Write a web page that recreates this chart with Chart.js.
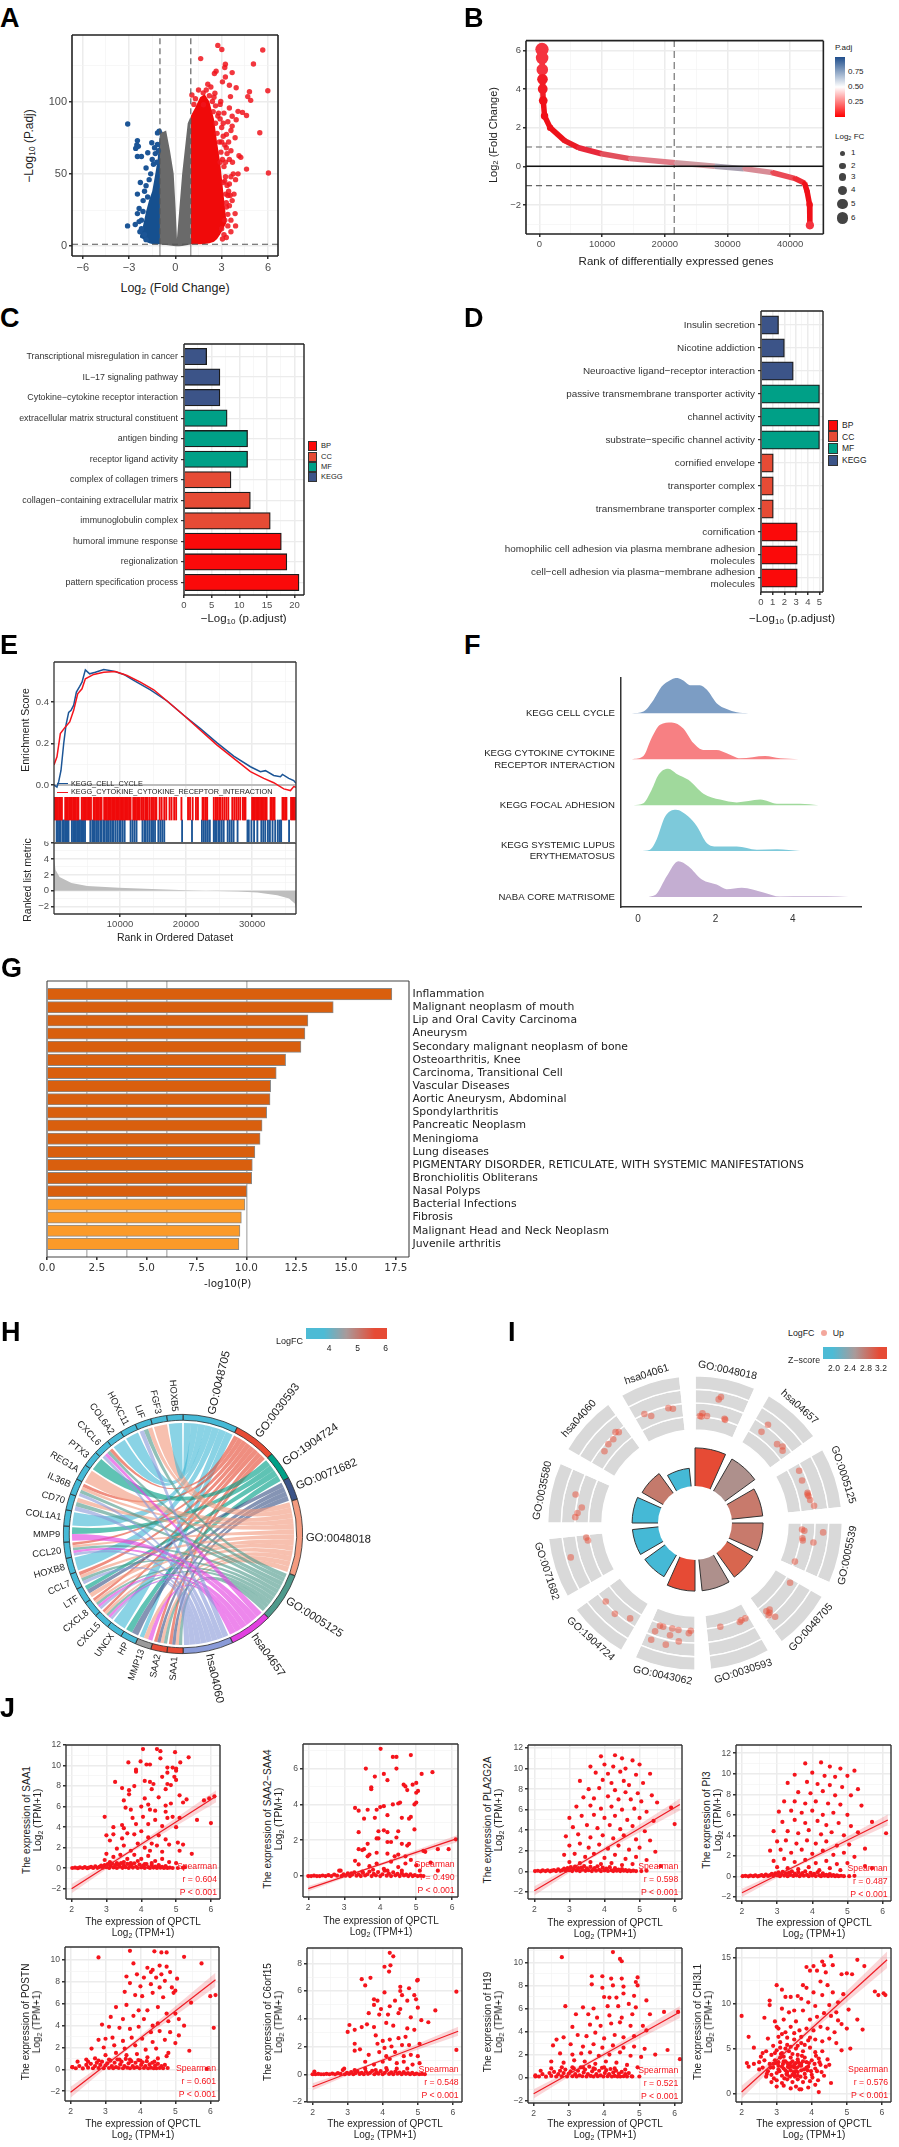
<!DOCTYPE html>
<html>
<head>
<meta charset="utf-8">
<style>
  html, body { margin: 0; padding: 0; background: #fff; }
  body { position: relative; width: 899px; height: 2147px; overflow: hidden; font-family: "Liberation Sans", Arial, sans-serif; color: #222; }
  canvas { position: absolute; }
  .t { position: absolute; white-space: nowrap; line-height: 1; }
  sub { font-size: 70%; vertical-align: -0.25em; line-height: 0; }
</style>
<script src="https://cdn.jsdelivr.net/npm/chart.js@4"></script>
</head>
<body>
<script>
// A - volcano
const volcanoAreaX = [-1, -0.8, -0.6, -0.35, -0.11, 0.02, 0.1, 0.25, 0.44, 0.8, 1]
const volcanoGreyTop = [80, 79, 80, 66, 50, 25, 5, 25, 50, 85, 90]
const volcanoGreyLow = [1.2, 1, 0.8, 0.4, 0.2, 0, 0, 0, 0.2, 0.8, 1.2]
const volcanoRedX = [1, 1.3, 1.6, 1.9, 2.2, 2.5, 2.7, 2.9, 3.1, 3.3]
const volcanoRedTop = [90, 96, 103, 105, 100, 88, 72, 58, 38, 18]
const volcanoRedLow = [1.3, 1.3, 1.3, 1.5, 2, 3, 5, 8, 12, 16]
const volcanoBlueX = [-2.3, -2.1, -1.9, -1.7, -1.5, -1.3, -1.15, -1]
const volcanoBlueTop = [7, 14, 24, 32, 38, 50, 60, 78]
const volcanoBlueLow = [6, 5, 3, 2, 1.5, 1.3, 1.3, 1.3]
const volcanoRedDots = [[2.75,138.8],[3.01,136],[1.64,129.7],[5.66,135.6],[5.06,126],[3.24,125.8],[3.2,123.5],[2.64,121],[2.53,119.4],[3.68,120],[3.24,117],[3.05,113.6],[3.5,111.3],[3.94,109.5],[4.8,106.8],[4.69,103.4],[5.99,107.5],[4.88,100.8],[1.07,104.5],[2.56,105.7],[3.57,103.4],[1.82,97.8],[2.94,100],[3.5,95.5],[4.06,93.2],[4.35,92.5],[4.61,90.3],[3.68,89.8],[5.47,78.4],[6.03,50.6],[4.61,53.3],[4.12,62.5],[4.24,61.4],[3.68,83],[3.87,75],[3.31,77.3],[3.94,87.4],[4.06,50],[3.5,43],[3.68,31.5],[3.87,22.5],[3.31,27],[3.5,60],[3.3,68],[3.1,85],[2.8,92],[3.2,45],[3.45,38],[3.6,18],[3.9,14],[2.9,98],[2.6,85],[2.7,78],[2.85,72],[2.95,65],[3.05,60],[3.15,55],[3.25,48],[3.35,42],[3.4,35],[3.5,28],[3.3,30],[3.4,22],[3.2,18],[3,12],[2.9,88],[3,82],[3.1,76],[3.2,70],[3.35,64],[3.45,72],[3.6,66],[3.7,58],[3.75,50],[3.9,46],[3.6,48],[3.8,36],[3.55,35],[2.45,93],[2.6,97],[2.4,100],[2.2,104],[2,108],[1.8,106],[2.3,110],[1.5,108],[1.3,102],[1.2,98],[2.75,90],[3.15,92],[3.4,86],[3.6,80],[2.1,112],[2.5,103],[3,72],[3.25,58],[2.9,58],[3.1,44],[3.25,36],[3.4,14],[3.6,10],[3.15,8],[3.3,6],[3.05,5]]
const volcanoBlueDots = [[-3.09,84.5],[-2.46,73],[-2.5,70],[-2.4,69],[-2.57,67.6],[-2.46,62],[-2.2,62],[-1.79,64.6],[-1.53,71.5],[-1.16,70.3],[-1.16,78.3],[-1.05,79.5],[-1.42,56.6],[-2.27,44],[-1.9,54],[-2.46,36],[-1.9,41.8],[-2.35,26],[-2.46,22.5],[-2.09,31.5],[-3.1,14],[-2.35,17],[-1.9,4.5],[-2.6,15],[-2.2,12],[-1.2,58],[-1.3,64],[-1.6,50],[-1.7,46],[-2,38],[-1.8,34],[-2.1,24],[-2.2,18],[-1.5,60],[-2.3,10],[-2,8],[-1.35,68],[-1.1,66]]

// B - rank plot
const rankX = [400, 420, 450, 480, 520, 600, 810, 1700, 4000, 6250, 9900, 14400, 21680, 28000, 32600, 37100, 40700, 42300, 42700, 43100, 43150]
const rankFC = [6.05, 5.6, 5, 4.5, 4, 3.4, 2.6, 2, 1.33, 0.96, 0.65, 0.4, 0.18, 0, -0.12, -0.32, -0.62, -0.87, -1.29, -1.97, -3.05]
const rankColors = ['#f5333f','#f5333f','#f5333f','#f21c26','#f21c26','#f01018','#f01018','#ee1018','#ea1a24','#e8283a','#e2505c','#e07a86','#cf9aa0','#a8a0b0','#d88c96','#ea4a55','#ee2a34','#f01018','#f01018','#f01018','#f5333f']

// C / D - enrichment bars
const barKinds = { BP: '#fb0a0a', CC: '#e64b35', MF: '#00a087', KEGG: '#3c5488' }
const cTerms = ['Transcriptional misregulation in cancer', 'IL\u221217 signaling pathway', 'Cytokine\u2212cytokine receptor interaction', 'extracellular matrix structural constituent', 'antigen binding', 'receptor ligand activity', 'complex of collagen trimers', 'collagen\u2212containing extracellular matrix', 'immunoglobulin complex', 'humoral immune response', 'regionalization', 'pattern specification process']
const cValues = [4.1, 6.5, 6.5, 7.8, 11.5, 11.5, 8.5, 12, 15.6, 17.6, 18.6, 20.8]
const cGroups = ['KEGG', 'KEGG', 'KEGG', 'MF', 'MF', 'MF', 'CC', 'CC', 'CC', 'BP', 'BP', 'BP']
const dTerms = ['Insulin secretion', 'Nicotine addiction', 'Neuroactive ligand\u2212receptor interaction', 'passive transmembrane transporter activity', 'channel activity', 'substrate\u2212specific channel activity', 'cornified envelope', 'transporter complex', 'transmembrane transporter complex', 'cornification', ['homophilic cell adhesion via plasma membrane adhesion', 'molecules'], ['cell\u2212cell adhesion via plasma\u2212membrane adhesion', 'molecules']]
const dValues = [1.5, 2, 2.76, 5, 5, 5, 1.05, 1.05, 1.05, 3.1, 3.1, 3.1]
const dGroups = ['KEGG', 'KEGG', 'KEGG', 'MF', 'MF', 'MF', 'CC', 'CC', 'CC', 'BP', 'BP', 'BP']

// E - GSEA
const esBlue = [[0,0],[450,-0.01],[710,0.016],[1060,0.07],[1470,0.2],[1820,0.29],[2220,0.35],[2580,0.36],[2980,0.385],[3390,0.448],[3890,0.475],[4240,0.496],[4750,0.555],[5400,0.536],[6260,0.544],[7530,0.557],[9040,0.549],[10560,0.533],[12070,0.504],[14600,0.459],[17120,0.405],[19650,0.336],[22170,0.272],[24700,0.203],[27220,0.139],[29750,0.088],[31260,0.064],[32020,0.069],[33280,0.046],[34290,0.04],[34600,0.051],[35560,0.032],[36310,0.021],[36650,0.008]]
const esRed = [[0,0.096],[450,0.136],[960,0.248],[1720,0.28],[2380,0.304],[2980,0.36],[3590,0.44],[4240,0.464],[4750,0.512],[6010,0.533],[7530,0.544],[9300,0.547],[11060,0.528],[13080,0.496],[15100,0.459],[17120,0.405],[19650,0.336],[22170,0.264],[24700,0.192],[27220,0.128],[29750,0.064],[31770,0.032],[33280,0.011],[34800,-0.019],[35810,-0.027],[36310,-0.008],[36650,-0.011]]
const rugRed = [0,200,400,600,800,1000,1200,1700,1900,2100,2300,2500,2700,2900,3100,3300,3500,3700,4200,4400,4600,4800,5000,5200,5400,5600,6000,6200,6400,6600,6800,7000,7200,7600,7800,8000,8200,8400,8600,8800,9000,9200,9400,9600,9800,10000,10200,10400,10600,10800,11000,11200,11400,11600,12000,12200,12400,12600,12800,13000,13300,13500,13800,14000,14200,14500,14800,15000,15300,15500,16000,16300,16700,17000,17500,17800,18200,18500,19300,20300,20600,21000,21500,21800,22500,22700,23000,23200,24200,24500,24700,25000,25200,25500,25800,26100,26400,27000,27300,27600,27900,28200,28600,28800,29000,30000,30200,30400,30600,30800,31000,31200,31400,31600,31800,32000,32200,32800,33000,33200,33400,34600,34800,35000,35200,35900,36100,36300,36500]
const rugBlue = [400,600,800,1000,1300,1500,1700,1900,2000,2200,2700,2900,3100,3300,3500,3700,3900,4100,4300,4500,4700,5500,5800,6000,6200,6500,6700,7000,7200,7500,7700,8000,8200,8500,8800,9000,9300,9600,9900,10100,10400,10700,11600,11900,12200,12500,13400,13700,13900,14200,14500,14800,15000,15300,15800,16100,16400,16700,19400,20900,22400,22700,23000,23300,23600,24200,24400,24600,24900,25100,25400,25700,26300,26600,26900,27200,27800,29300,29500,29900,30300,30800,31400,31700,32000,32400,32700,33100,33500,33900,34200,34400,35600]
const metricX = [0, 240, 840, 2640, 5030, 9820, 15810, 20000, 23000, 27800, 30800, 33800, 35600, 36500, 36650]
const metricY = [4.2, 2.6, 1.75, 1, 0.62, 0.38, 0.2, 0.08, 0, -0.08, -0.2, -0.55, -0.95, -1.6, -2.2]

// F - ridges
const ridgeNames = ['KEGG CELL CYCLE', ['KEGG CYTOKINE CYTOKINE', 'RECEPTOR INTERACTION'], 'KEGG FOCAL ADHESION', ['KEGG SYSTEMIC LUPUS', 'ERYTHEMATOSUS'], 'NABA CORE MATRISOME']
const ridgeColors = ['#7c9dc4', '#f78083', '#a0d99c', '#7dc9da', '#c4aed2']
const ridgeX1 = [-0.16, 0.14, 0.4, 0.61, 0.83, 1, 1.17, 1.34, 1.6, 1.78, 2.03, 2.29, 2.55, 2.85]
const ridgeH1 = [0, 0.04, 0.29, 0.58, 0.72, 0.77, 0.71, 0.61, 0.61, 0.51, 0.22, 0.09, 0.02, 0]
const ridgeX2 = [-0.16, 0.14, 0.35, 0.57, 0.87, 1.17, 1.43, 1.69, 2.03, 2.29, 2.64, 3.28, 3.67, 4.15]
const ridgeH2 = [0, 0.07, 0.46, 0.75, 0.8, 0.67, 0.35, 0.2, 0.2, 0.13, 0.02, 0.07, 0.02, 0]
const ridgeX3 = [-0.12, 0.14, 0.35, 0.53, 0.78, 1, 1.3, 1.69, 2.12, 2.55, 3.16, 3.59, 4.19, 4.66]
const ridgeH3 = [0, 0.04, 0.33, 0.66, 0.79, 0.68, 0.55, 0.25, 0.12, 0.06, 0.12, 0.03, 0.03, 0]
const ridgeX4 = [0.05, 0.31, 0.48, 0.7, 0.98, 1.3, 1.52, 1.78, 2.03, 2.55, 3.07, 3.59, 4.19]
const ridgeH4 = [0, 0.03, 0.25, 0.75, 0.9, 0.75, 0.54, 0.17, 0.1, 0.1, 0.03, 0.04, 0]
const ridgeX5 = [0.27, 0.48, 0.74, 1.04, 1.3, 1.65, 2.03, 2.29, 2.68, 3.24, 3.67, 4.36, 4.88, 5.44]
const ridgeH5 = [0, 0.07, 0.45, 0.78, 0.67, 0.38, 0.27, 0.17, 0.2, 0.1, 0.01, 0.015, 0.015, 0]

// G - disease enrichment
const diseaseNames = ['Inflammation', 'Malignant neoplasm of mouth', 'Lip and Oral Cavity Carcinoma', 'Aneurysm', 'Secondary malignant neoplasm of bone', 'Osteoarthritis, Knee', 'Carcinoma, Transitional Cell', 'Vascular Diseases', 'Aortic Aneurysm, Abdominal', 'Spondylarthritis', 'Pancreatic Neoplasm', 'Meningioma', 'Lung diseases', 'PIGMENTARY DISORDER, RETICULATE, WITH SYSTEMIC MANIFESTATIONS', 'Bronchiolitis Obliterans', 'Nasal Polyps', 'Bacterial Infections', 'Fibrosis', 'Malignant Head and Neck Neoplasm', 'Juvenile arthritis']
const diseaseValues = [17.3, 14.36, 13.09, 12.94, 12.74, 11.97, 11.5, 11.22, 11.19, 11.02, 10.79, 10.69, 10.43, 10.3, 10.27, 10.02, 9.93, 9.75, 9.68, 9.63]

// H - chord
const chordTerms = ['GO:0048705', 'GO:0030593', 'GO:1904724', 'GO:0071682', 'GO:0048018', 'GO:0005125', 'hsa04657', 'hsa04060']
const chordTermSpan = [27, 21, 14, 11, 37.5, 24, 21, 24.5]
const chordTermColors = ['#45b9d6', '#e64b35', '#00a087', '#3c5488', '#f39b7f', '#4f9a8c', '#e23fe0', '#8a9bd8']
const chordGenes = ['SAA1', 'SAA2', 'MMP13', 'HP', 'UNCX', 'CXCL5', 'CXCL8', 'LTF', 'CCL7', 'HOXB8', 'CCL20', 'MMP9', 'COL1A1', 'CD70', 'IL36B', 'REG1A', 'PTX3', 'CXCL6', 'COL6A2', 'HOXC11', 'LIF', 'FGF3', 'HOXB5']
const chordGeneSpan = [7.83, 7.83, 7.83, 7.83, 7.83, 7.83, 7.83, 7.83, 7.83, 7.83, 7.83, 7.83, 7.83, 7.83, 7.83, 7.83, 7.83, 7.83, 7.83, 7.83, 7.83, 7.83, 7.83]
const chordGeneColors = ['#e64b35', '#e64b35', '#9a9a9a', '#45b9d6', '#45b9d6', '#45b9d6', '#45b9d6', '#45b9d6', '#45b9d6', '#45b9d6', '#45b9d6', '#45b9d6', '#45b9d6', '#45b9d6', '#45b9d6', '#45b9d6', '#45b9d6', '#45b9d6', '#45b9d6', '#45b9d6', '#45b9d6', '#45b9d6', '#45b9d6']
const chordLinks = [[0,1],[0,3],[0,4],[0,5],[1,1],[1,3],[1,4],[1,5],[2,0],[2,4],[2,6],[3,2],[3,3],[4,0],[5,1],[5,4],[5,5],[5,6],[5,7],[6,1],[6,4],[6,5],[6,6],[6,7],[7,2],[7,3],[7,4],[8,1],[8,4],[8,5],[8,7],[9,0],[10,1],[10,4],[10,5],[10,6],[10,7],[11,2],[11,6],[12,0],[13,4],[13,5],[13,7],[14,1],[14,4],[14,5],[14,7],[15,4],[16,2],[17,1],[17,5],[17,6],[17,7],[18,0],[19,0],[20,4],[20,5],[20,7],[21,4],[22,0]]

// I - GO circle
const circleTerms = ['GO:0048018', 'hsa04657', 'GO:0005125', 'GO:0005539', 'GO:0048705', 'GO:0030593', 'GO:0043062', 'GO:1904724', 'GO:0071682', 'GO:0035580', 'hsa04060', 'hsa04061']
const circleBars = [12.5, 12.1, 10.2, 10.2, 9.8, 10.2, 10.2, 8.2, 8.5, 8.5, 7.9, 5.9]
const circleBarColors = ['#e64b35', '#ae908c', '#c87a6c', '#c87a6c', '#d8664f', '#ae908c', '#e64b35', '#45b9d6', '#45b9d6', '#45b9d6', '#c47a6c', '#45b9d6']
const circleDots = [[80,388],[73,381],[15,330],[23,338],[37,330],[20,328],[91,321],[93,318],[225,303],[205,281],[253,243],[270,236],[270,223],[321,161],[330,131],[347,93],[350,83],[355,71],[367,53],[347,88],[330,-20],[337,-24],[395,-29],[331,-47],[332,-54],[365,-60],[308,-119],[293,-184],[230,-267],[220,-272],[227,-284],[247,-289],[230,-277],[155,-294],[143,-300],[138,-305],[78,-320],[-108,-317],[-98,-320],[-70,-325],[-51,-330],[-13,-332],[-19,-340],[-123,-334],[-77,-346],[-135,-360],[-90,-375],[-50,-365],[-275,-242],[-247,-280],[-200,-294],[-335,-45],[-330,-54],[-383,-106],[-368,88],[-349,48],[-362,31],[-369,18],[-235,280],[-245,280],[-252,258],[-267,243],[-279,221],[-82,354],[-68,352],[-156,336],[-135,330]]

// J - correlation panels
const saa1Pts = [4.05,11.6,4.45,11.6,4.55,11.4,4.97,11.3,5.36,10.8,3.63,10.3,3.98,10.4,4.55,10.7,5.12,10.3,4.15,10.1,4.25,10.1,3.85,9.6,3.85,9.4,4.75,9.8,4.9,9.8,5,9.5,5,9.7,4.75,9.3,4.95,8.9,4.6,8.9,5,8.6,3.25,8.4,4.1,8.5,4.25,8.4,4.35,8.2,4.75,8.2,4.85,8.1,3.45,7.8,3.65,7.6,3.8,8,4.3,7.7,4.7,7.7,5.1,7.1,5.3,6.7,5.2,6.4,3.5,6.6,3.65,7.2,4.1,6.8,4.2,6.2,4.5,6.9,4.7,6.1,4.85,6.3,3.55,5.9,3.7,5.7,4,6,4.25,5.7,4.4,5.6,4.7,5.5,4.9,5,5.1,4.9,5.6,4.7,6,4.4,2.95,5,3.2,4,3.45,4.2,3.5,3.9,3.75,4.9,3.85,4.3,4.05,5,4.2,4.3,4.4,4.7,4.6,4.1,4.75,4.9,5,4,3,3.2,3.2,3.3,3.45,2.9,3.6,3.4,3.8,3.3,4,3.6,4.2,3,4.3,2.4,4.5,3.2,4.7,2.8,4.8,2.3,5.05,2.5,5.2,2.3,3.1,2.7,3.3,1.9,3.5,2.2,3.7,1.7,3.9,2.4,4.1,2,4.25,1.7,4.45,2.2,4.6,1.6,5.1,1.7,5.45,1.4,3,1.4,3.2,1.1,3.4,1.3,3.6,0.9,3.8,1.3,4,0.9,4.2,1.2,4.4,0.7,4.6,0.9,4.8,0.6,5,0.5,2.95,0.8,3.1,0.6,3.3,0.5,3.5,0.6,3.7,0.5,3.9,0.7,4.1,0.4,4.3,0.5,4.5,0.3,4.7,0.2,5.95,6.8,5.8,6.6,6.1,7,5.25,0.1]
const saa2Pts = [4.01,7.1,4.35,6.65,4.45,6.65,4.85,6.75,5.15,5.7,5.45,5.8,3.6,6,4.45,6,3.85,5.55,4.1,5.7,4.2,5.35,3.75,4.95,3.75,4.85,4.65,5.1,4.7,5,4.9,5.1,5,5.2,4.75,4.8,5.05,4.75,5,4.65,3.3,3.8,3.4,3.65,3.65,3.7,3.55,3.2,3.9,3.7,4.1,3.9,4,3.85,4.2,3.4,4.35,4,4.5,4.05,4.55,4.1,4.6,3.25,4.8,3.2,4.85,3.3,5,4.1,4.95,4,3.4,2.45,3.85,3.25,3.95,2.5,4.1,2.55,4.2,2.45,4.5,2.5,4.95,2.6,3.9,2.1,3.95,2.1,4.2,1.9,4.3,1.9,4.45,2.15,3.65,1.8,4.6,1.8,4.8,1.8,4.75,1.7,3.4,1.5,3.5,1.45,3.55,1.5,3.65,1.1,3.7,1.2,3.9,1.3,4.2,1.25,4.4,1.1,4.5,1.2,4.7,1.1,5.2,1.4,5.25,1.35,5.6,1.5,5.9,1.5,6.1,2.05,3.3,0.85,3.4,0.65,3.7,0.55,3.9,0.7,4.1,0.4,4.3,0.8,4.5,0.5,4.7,0.7,4.85,0.9,5,0.6,5.1,0.3,5.4,0.75,5.6,0.3,2.9,0.3,3.2,0.15,3.5,0.25,3.8,0.35,4.2,0.3,4.6,0.3]
const pla2Pts = [3.9,11.2,4.3,11.3,4.5,11,4.8,10.8,3.6,10.2,4,10.4,4.25,10.2,4.6,10,5,10.4,3.75,9.6,4.1,9.5,4.45,9.7,4.9,9.4,5.3,9.5,3.3,8.8,3.95,8.9,4.2,8.6,4.55,8.8,4.7,8.4,5.1,8.6,3.55,8,3.85,8.1,4.3,7.9,4.6,7.7,4.95,7.6,5.35,7.4,3.4,7.2,3.7,7.1,4.1,7.3,4.4,7,4.75,7,5.05,6.8,5.5,6.7,3.2,6.3,3.6,6.4,3.9,6.1,4.2,6.3,4.5,6,4.85,6.1,5.2,5.8,5.9,6.2,3,5.2,3.35,5.4,3.7,5.5,4,5.2,4.3,5.4,4.65,5,5,5.2,5.4,4.9,6,4.6,3.1,4.3,3.5,4.5,3.8,4.2,4.15,4.5,4.45,4.1,4.8,4.4,5.15,3.9,2.9,3.4,3.25,3.6,3.6,3.3,3.95,3.5,4.25,3.2,4.55,3.5,4.9,3.1,5.3,3,3,2.5,3.3,2.7,3.55,2.3,3.85,2.6,4.1,2.2,4.4,2.5,4.7,2.1,5,2.3,5.45,1.9,2.85,1.6,3.15,1.7,3.45,1.4,3.7,1.7,4,1.3,4.3,1.6,4.6,1.2,4.9,1.4,5.2,1.1,3,0.9,3.3,0.8,3.6,0.9,3.9,0.7,4.2,0.8,4.5,0.6,4.8,0.7,5.6,0.5]
const pi3Pts = [3.8,11,4.25,11.1,4.5,10.7,4.8,10.5,5.2,10.3,3.5,9.9,4,10.1,4.35,9.8,4.65,9.7,5,9.8,3.3,9.1,3.85,9.2,4.15,9,4.5,8.9,4.85,8.7,5.3,8.5,3.6,8.2,3.95,8.1,4.3,8.3,4.65,7.9,5.1,7.9,3.2,7.3,3.5,7.3,3.8,7.1,4.1,7.3,4.45,7.1,4.8,7,5.4,6.9,3.05,6.3,3.4,6.4,3.7,6.2,4,6.4,4.3,6,4.6,6.2,5,6,5.7,5.3,3.15,5.3,3.5,5.5,3.8,5.2,4.15,5.4,4.4,5,4.75,5.2,5.1,4.9,6.1,4.2,2.9,4.4,3.3,4.4,3.6,4.2,3.9,4.5,4.25,4.1,4.55,4.3,4.9,4,5.3,4.3,3,3.4,3.25,3.5,3.55,3.2,3.85,3.5,4.1,3.2,4.4,3.4,4.7,3,5.05,3.1,5.5,2.7,2.8,2.5,3.1,2.6,3.4,2.3,3.7,2.6,4,2.2,4.3,2.5,4.6,2.1,4.9,2.3,5.2,1.9,2.9,1.5,3.2,1.7,3.5,1.4,3.8,1.6,4.1,1.3,4.4,1.5,4.7,1.2,5,1.3,5.5,1,3,0.9,3.3,0.8,3.6,0.7,3.9,0.9,4.2,0.6,4.5,0.8,4.8,0.6,5.7,0.8]
const postnPts = [3.7,10.85,2.8,10.25,4.4,10.8,4.6,10.7,4.75,10.7,5.25,10.3,5.75,9.7,3.8,9.7,4.2,9.3,4.35,9.1,4.55,9.5,4.75,9.4,4.3,8.9,4.6,8.7,4.85,8.9,3.6,8.5,3.9,8.7,4.1,8.4,4.45,8.4,5.05,8.3,4.7,8.1,3.7,7.9,4,7.6,4.3,7.8,4.55,7.5,4.9,7.5,5,7.2,4.95,7,3.55,7.1,3.85,6.8,4.05,6.7,4.35,7,4.65,6.6,5.45,6.1,6,6.7,6.15,6.8,3.3,5.7,3.6,5.9,3.95,5.4,4.2,5.4,4.5,5.7,4.75,5.1,5,5.1,3.15,4.8,3.5,4.6,3.8,4.9,4.1,4.6,4.35,4,4.5,4.2,4.8,4.4,5.1,4.6,5.25,4,6.1,3.8,2.9,4.1,3.1,3.9,3.4,3.8,3.7,3.7,3.95,3.9,4.3,3.4,4.55,3.5,4.85,3.4,5.1,3.1,2.8,2.7,3,2.8,3.2,2.9,3.5,2.6,3.75,2.9,4.05,2.8,4.35,2.5,4.7,2.7,5,2.4,5.4,1.7,2.6,1.9,2.95,2,3.25,2.2,3.55,1.9,3.85,2.2,4.15,1.8,4.45,1.9,4.8,1.5,2.45,0.9,2.7,1,3,1.3,3.3,1.5,3.6,1.3,3.9,1.4,4.2,1.1,4.5,1,4.75,1.2,2.2,0.7,2.5,0.7,2.8,0.8,3.1,0.9,3.4,0.9,3.7,0.9,4,0.8,4.4,0.7,5.9,0.05,2.05,0.2]
const c6Pts = [4.2,8.75,4.3,8.5,4.05,7.75,4.22,7.85,4.18,7.4,3.4,6.85,3.65,6.95,3.5,6.4,4.05,5.9,5,6.8,4.98,6.75,6.1,5.95,4.5,6.3,4.5,6,4.75,6.2,4.55,5.7,4.9,5.7,3.75,5.4,3.85,5.3,4.35,5.3,4.7,5.3,4.95,5.4,3.75,5,3.95,4.7,4.2,4.9,4.5,4.7,5,4.8,5.5,4.6,3.6,4.4,3.9,4.3,4.15,4.3,4.45,4.4,4.8,4.1,5.1,3.9,5.3,3.75,3.05,3.55,3.2,3.2,3.55,3.6,3.75,3.4,3.4,3.4,4.1,3.7,4.3,3.5,4.7,3.3,4.9,3.2,3,3.05,3.2,2.2,3.8,2.8,4,2.4,4.2,2.5,4.45,2.6,4.65,2.7,3.2,1.7,3.35,1.8,3.85,2.2,4.05,1.9,4.25,2,4.55,2.1,4.75,2.1,5.05,2.2,6.1,1.75,3.6,1.4,3.9,1.6,4.1,1.3,4.35,1.6,4.6,1.3,4.8,1.4,5,1.3,3.5,0.9,3.75,0.7,4,0.9,4.2,1.1,4.4,0.8,4.6,0.9,4.85,0.7,5.05,0.8,2.9,0.4,3.2,0.3,3.5,0.4,3.8,0.3,4.1,0.45,4.4,0.4,4.7,0.4,2.05,0.2]
const h19Pts = [2.8,10.45,4.25,10.9,4.45,10.3,4.5,10.1,3.65,8.8,3.95,8.8,4.2,8.6,4.5,8.6,4.95,8.7,3.65,8.1,3.95,7.8,4.25,8,4.55,7.9,4.9,8.3,4.95,8,4,7,4.15,6.95,4.35,6.95,4.55,7.3,4.85,7.1,5.2,6.7,2.9,6.2,3.4,6.1,3.7,6,4.1,6.2,4.4,6.2,4.7,6.4,4.9,6.1,5.7,5.7,6.1,5.7,3.2,5.5,3.55,5.5,3.8,5.2,4.15,5.4,4.5,5.2,4.8,5.5,5.3,5.5,3.1,4.4,3.6,4.6,3.9,4.5,4.2,4.7,4.45,4.8,4.75,4.5,5.1,4.5,2.65,3.3,2.85,3.5,3.25,3.7,3.5,3.6,3.75,3.9,4,3.4,4.3,3.7,4.55,3.5,4.85,3.6,5.2,4.1,2.55,2.8,3.05,2.9,3.4,2.7,3.7,2.9,3.95,2.6,4.25,2.8,4.55,2.6,4.85,2.7,5.15,2.5,5.8,2.4,2.75,2.1,3.1,2,3.35,2.1,3.6,2.2,3.85,1.9,4.15,2,4.45,2.2,4.75,1.9,5.05,1.8,5.45,2,6.15,1.6,2.5,1.4,2.85,1.3,3.15,1.5,3.45,1.4,3.75,1.2,4.05,1.4,4.35,1.3,4.65,1.1,4.95,0.9,2.2,0.6,2.5,0.8,2.8,0.9,3.1,0.9,3.4,0.9,3.7,0.8,4,0.9,4.3,0.8,4.6,0.7,5,0.1,4.8,0.1,2.05,0.1]
const chiPts = [2,8.6,2.2,6.3,2.35,5.1,2.5,3.5,2.15,3.4,2.2,3,2.35,3.3,2.5,2.7,2.55,4.1,2.6,4.5,2.75,6.1,2.65,8.4,2.8,10.3,2.8,9.8,2.95,8,3,7.4,3,12,3.15,11.5,3.25,10.7,3.15,9.4,3.4,10.7,3.6,10.8,3.75,12,3.85,14,3.95,13.6,4.05,14.1,4.15,13.6,4.3,14.6,4.35,14.2,4.4,13.4,4.55,15.2,4.6,14.2,4.85,13.2,5,13.3,5.15,13.2,5.3,14.8,5.5,14.1,5.8,11.3,5.9,10.9,6.05,11.1,6.1,10.9,5.3,8.2,5.45,7.1,5.05,9.3,4.9,11,4.75,10.1,4.6,11.2,4.45,12,4.25,12.4,4.05,11.2,3.85,11.7,3.7,10.5,3.5,9.2,3.35,9,3.2,8.2,3.05,7.2,3.9,10.1,4.1,9.7,4.3,10.9,4.5,9.8,4.7,9,4.85,7.7,5,7.2,4.75,8.1,4.55,8.6,4.35,8.9,4.15,8.5,3.95,8.2,3.75,9.2,3.55,8,3.4,7.4,3.25,6.8,3.05,6.3,3.65,7,3.85,7.2,4.05,7,4.25,7.4,4.45,7.2,4.65,6.8,5.1,5,4.85,4.8,4.7,5.6,4.5,6.1,4.3,5.8,4.1,6,3.9,5.9,3.7,5.6,3.5,6,3.3,5.4,3.1,5.7,2.9,5.3,2.7,4.7,2.85,4.3,3,4.8,3.15,4.5,3.35,4.7,3.55,5,3.75,4.7,3.95,5.1,4.1,4.6,4.3,4.7,4.45,3.8,4.4,3,4.35,2,4.5,3.2,4.55,1.2,4.2,0.2,2.65,3.7,2.8,3.3,2.95,3.7,3.1,4,3.25,3.6,3.4,4,3.6,3.8,3.8,4,4,3.7,4.2,3.9,2.6,2.9,2.75,2.5,2.9,2.9,3.05,3.1,3.2,2.8,3.35,3.2,3.5,2.9,3.7,3.1,3.9,3,4.1,2.8,4.25,3.2,2.7,1.9,2.85,2.1,3,2.3,3.15,2,3.3,2.4,3.45,2.1,3.6,2.4,3.8,2.2,4,2.1,4.15,2.5,2.85,1.3,3,1.5,3.15,1.2,3.3,1.6,3.45,1.3,3.6,1.6,3.75,1.3,3.95,1.4,4.1,1,3,0.8,3.2,0.9,3.4,0.6,3.55,0.8,3.7,0.5,3.9,0.7,3.65,0.5,3.25,2.6,3.4,2.6,3.55,3.4,3.7,2.6,3.3,3.4,3.45,3.6,3.6,4.3,3.2,4.1,3.85,3.5,3.05,3.5,2.72,2.2,2.82,2.9,2.92,1.7,2.98,3.4,3.08,2.5,3.12,4.4,3.18,3.3,3.22,1.7,3.28,2.2,3.32,3,3.38,1.9,3.42,3,3.48,2.4,3.52,1.9,3.58,2.9,3.62,3.5,3.68,1.9,3.72,4.2,3.78,2.7,3.82,1.8,3.88,2.6,3.92,3.4,3.98,2.5,4.02,1.8,4.08,3.3,4.12,4.2,4.18,1.5,4.22,3.5,4.28,2.4,3.1,5.1,3.25,5,3.4,5.2,3.45,4.4,3.6,5.3,3.8,5.4,3.95,6.2,3.3,6.2,3.15,6.6,3.5,6.7,3.7,6.3,2.95,4.5,3.5,3.2,3.6,2,3.75,3.6,3.35,2.9,3.2,3.6,3.05,2.7,2.9,3.3,3.15,3,3.3,2.1,3.5,2.2,3.65,3.1,3.85,2.9,3.4,3.4,3.55,2.5,3.7,3.3]
// overplotted mass along the zero line, read from the dense lower strip of each panel
const stripSlim = [2.02,0.02,2.1,0.05,2.18,0,2.24,0.08,2.32,0.02,2.38,0.1,2.45,0,2.5,0.06,2.56,0.12,2.62,0.02,2.68,0.18,2.74,0.04,2.8,0.12,2.85,0.25,2.9,0.05,2.95,0.3,3,0.1,3.04,0.4,3.08,0.02,3.12,0.22,3.16,0.45,3.2,0.08,3.25,0.3,3.3,0.02,3.34,0.36,3.38,0.15,3.42,0.5,3.46,0.04,3.5,0.28,3.55,0.1,3.6,0.42,3.64,0.02,3.68,0.2,3.72,0.32,3.76,0.06,3.8,0.48,3.85,0.14,3.9,0.02,3.95,0.35,4,0.08,4.05,0.25,4.1,0.03,4.15,0.4,4.2,0.1,4.25,0.02,4.3,0.3,4.35,0.06,4.4,0.16,4.45,0.02,4.5,0.22,4.55,0.05,4.6,0.12,4.65,0.02,4.7,0.1,4.75,0.02,4.82,0.06,4.9,0.02,5.05,0.02,5.2,0.05]
const stripFlat = [2,0,2.08,0,2.16,0.02,2.24,0,2.32,0,2.4,0.03,2.48,0,2.56,0.05,2.64,0,2.72,0.08,2.8,0.02,2.86,0.3,2.92,0,2.98,0.1,3.04,0.02,3.1,0.15,3.16,0,3.22,0.08,3.28,0.2,3.34,0.02,3.4,0.1,3.46,0,3.52,0.18,3.58,0.03,3.64,0.1,3.7,0.25,3.76,0,3.82,0.12,3.88,0.04,3.94,0.22,4,0,4.06,0.1,4.12,0.3,4.18,0.02,4.24,0.14,4.3,0,4.36,0.2,4.42,0.04,4.48,0.12,4.54,0,4.6,0.15,4.66,0.03,4.72,0.08,4.78,0,4.84,0.1,4.9,0,4.96,0.05,5.04,0,5.12,0.02,5.2,0]
const stripFat = [2.05,0.2,2.15,0.1,2.25,0.3,2.35,0.08,2.45,0.4,2.5,0.15,2.58,0.5,2.64,0.1,2.7,0.3,2.75,0.6,2.8,0.12,2.85,0.4,2.9,0.7,2.95,0.1,3,0.35,3.05,0.55,3.1,0.12,3.14,0.8,3.18,0.3,3.22,0.1,3.26,0.6,3.3,0.2,3.34,0.9,3.38,0.12,3.42,0.45,3.46,0.7,3.5,0.1,3.54,0.3,3.58,0.95,3.62,0.15,3.66,0.55,3.7,0.1,3.74,0.75,3.78,0.3,3.82,0.12,3.86,0.6,3.9,0.2,3.94,0.85,3.98,0.1,4.02,0.4,4.06,0.65,4.1,0.12,4.14,0.3,4.18,0.75,4.22,0.1,4.26,0.45,4.3,0.15,4.34,0.6,4.38,0.1,4.42,0.35,4.46,0.1,4.5,0.5,4.55,0.12,4.6,0.3,4.65,0.1,4.7,0.4,4.78,0.12]

const jGenes = ['SAA1', 'SAA2\u2212SAA4', 'PLA2G2A', 'PI3', 'POSTN', 'C6orf15', 'H19', 'CHI3L1']
const jPoints = [saa1Pts, saa2Pts, pla2Pts, pi3Pts, postnPts, c6Pts, h19Pts, chiPts]
const jStrips = [stripSlim, stripFlat, stripSlim, stripSlim, stripFat, stripFlat, stripFat, []]
const jR = ['0.604', '0.490', '0.598', '0.487', '0.601', '0.548', '0.521', '0.576']
const jFitStart = [-2, -0.7, -1.9, -1.6, -2.1, -0.9, -1.4, 0.2]
const jFitEnd = [7, 2.1, 6.5, 5.5, 8.2, 3.1, 5.7, 14.8]
const jFitBand = [0.45, 0.15, 0.45, 0.4, 0.5, 0.25, 0.4, 0.7]
const jFitMid = [0.15, 0.06, 0.15, 0.14, 0.16, 0.08, 0.14, 0.25]
const jYMajor = [[-2,0,2,4,6,8,10,12], [0,2,4,6], [-2,0,2,4,6,8,10,12], [-2,0,2,4,6,8,10,12], [-2,0,2,4,6,8,10], [-2,0,2,4,6,8], [-2,0,2,4,6,8,10], [0,5,10,15]]
const jYMinor = [[-1,1,3,5,7,9,11], [1,3,5,7], [-1,1,3,5,7,9,11], [-1,1,3,5,7,9,11], [-1,1,3,5,7,9], [-1,1,3,5,7,9], [-1,1,3,5,7,9,11], [2.5,7.5,12.5]]
const jXMajor = [2, 3, 4, 5, 6]
const jXMinor = [2.5, 3.5, 4.5, 5.5]

Chart.defaults.responsive = false
Chart.defaults.animation = false
Chart.defaults.font.family = '"Liberation Sans", Arial, sans-serif'
Chart.defaults.plugins.legend.display = false
Chart.defaults.plugins.tooltip.enabled = false

const label = (html, x, y, opts = {}) => {
  const { size = 10, align = 'c', rot = 0, color = '#222', weight = 400, family } = opts
  const el = document.createElement('div')
  el.className = 't'
  el.innerHTML = html
  el.style.left = x + 'px'
  el.style.top = y + 'px'
  el.style.fontSize = size + 'px'
  el.style.color = color
  el.style.fontWeight = weight
  if (family) el.style.fontFamily = family
  const dx = align === 'c' ? '-50%' : align === 'r' ? '-100%' : '0'
  el.style.transform = `translate(${dx}, -50%) rotate(${rot}deg)`
  document.body.appendChild(el)
}

const colorBar = (l, r, t, b, css) => {
  const el = document.createElement('div')
  el.style.cssText = `position:absolute;left:${l}px;top:${t}px;width:${r - l}px;height:${b - t}px;background:${css}`
  document.body.appendChild(el)
}

const dot = (x, y, radius, color) => {
  const el = document.createElement('div')
  el.style.cssText = `position:absolute;left:${x - radius}px;top:${y - radius}px;width:${radius * 2}px;height:${radius * 2}px;border-radius:50%;background:${color}`
  document.body.appendChild(el)
}

const makeCanvas = (b, m) => {
  const c = document.createElement('canvas')
  c.width = Math.round(b.r - b.l + m.l + m.r)
  c.height = Math.round(b.b - b.t + m.t + m.b)
  c.style.left = (b.l - m.l) + 'px'
  c.style.top = (b.t - m.t) + 'px'
  document.body.appendChild(c)
  return c
}

const clearPadding = (s) => { s.paddingLeft = s.paddingRight = s.paddingTop = s.paddingBottom = 0 }

const frame = (color = '#222', width = 1.4, sides = 'tlrb') => ({
  id: 'frame',
  afterDatasetsDraw(chart) {
    const { ctx, chartArea: a } = chart
    ctx.save()
    ctx.strokeStyle = color
    ctx.lineWidth = width
    ctx.beginPath()
    if (sides.includes('t')) { ctx.moveTo(a.left, a.top); ctx.lineTo(a.right, a.top) }
    if (sides.includes('b')) { ctx.moveTo(a.left, a.bottom); ctx.lineTo(a.right, a.bottom) }
    if (sides.includes('l')) { ctx.moveTo(a.left, a.top); ctx.lineTo(a.left, a.bottom) }
    if (sides.includes('r')) { ctx.moveTo(a.right, a.top); ctx.lineTo(a.right, a.bottom) }
    ctx.stroke()
    ctx.restore()
  }
})

// ggplot style axis: thick major and thin minor grid lines, ticks on majors only
const numAxis = (which, m, min, max, major, minor, extra = {}) => ({
  type: 'linear',
  min,
  max,
  offset: false,
  afterBuildTicks: (s) => { s.ticks = [...major, ...minor].sort((a, b) => a - b).map((v) => ({ value: v })) },
  afterFit: (s) => {
    if (which === 'x') s.height = m.b
    else s.width = m.l
    clearPadding(s)
  },
  ticks: {
    autoSkip: false, maxRotation: 0, minRotation: 0, padding: 2,
    font: { size: extra.size || 9.5 }, color: extra.color || '#4d4d4d',
    callback: (v) => (major.includes(v) ? (extra.fmt ? extra.fmt(v) : v.toString().replace('-', '\u2212')) : '')
  },
  grid: {
    offset: false,
    color: (c) => (c.tick && major.includes(c.tick.value) ? '#ececec' : '#f4f4f4'),
    lineWidth: (c) => (c.tick && major.includes(c.tick.value) ? 1.5 : 0.7),
    tickColor: (c) => (c.tick && major.includes(c.tick.value) ? '#333' : 'rgba(0,0,0,0)'),
    tickLength: extra.tickLength === undefined ? 3 : extra.tickLength,
    drawTicks: true
  },
  border: { display: false }
})

const vLine = (x, y0, y1, color, width, dash) => ({ data: [{ x, y: y0 }, { x, y: y1 }], borderColor: color, borderWidth: width, borderDash: dash, pointRadius: 0 })
const hLine = (y, x0, x1, color, width, dash) => ({ data: [{ x: x0, y }, { x: x1, y }], borderColor: color, borderWidth: width, borderDash: dash, pointRadius: 0 })
const zipXY = (xs, ys) => xs.map((x, i) => ({ x, y: ys[i] }))
const pairs = (list) => list.map(([x, y]) => ({ x, y }))
const flatPairs = (flat) => {
  const out = []
  for (let k = 0; k < flat.length; k += 2) out.push({ x: flat[k], y: flat[k + 1] })
  return out
}

// ---------- A ----------
{
  const b = { l: 72, r: 278, t: 33, b: 256 }
  const m = { l: 26, b: 22, t: 2, r: 4 }
  new Chart(makeCanvas(b, m), {
    type: 'line',
    data: { datasets: [
      vLine(-1, 1.3, 146, '#555', 1.1, [6, 4]),
      vLine(1, 1.3, 146, '#555', 1.1, [6, 4]),
      vLine(-1, -7, 1.3, '#555', 0.8),
      vLine(1, -7, 1.3, '#555', 0.8),
      hLine(1.3, -6.7, 6.65, '#555', 1.1, [6, 4]),
      { data: pairs(volcanoRedDots), showLine: false, pointRadius: 2.7, pointBackgroundColor: 'rgba(240,20,28,0.85)', pointBorderWidth: 0 },
      { data: pairs(volcanoBlueDots), showLine: false, pointRadius: 2.7, pointBackgroundColor: '#1c5596', pointBorderWidth: 0 },
      { data: zipXY(volcanoRedX, volcanoRedTop), borderWidth: 0, pointRadius: 0, fill: '+1', backgroundColor: '#f00a0a', borderColor: '#f00a0a' },
      { data: zipXY(volcanoRedX, volcanoRedLow), borderWidth: 0, pointRadius: 0 },
      { data: zipXY(volcanoBlueX, volcanoBlueTop), borderWidth: 0, pointRadius: 0, fill: '+1', backgroundColor: '#16508f' },
      { data: zipXY(volcanoBlueX, volcanoBlueLow), borderWidth: 0, pointRadius: 0 },
      { data: zipXY(volcanoAreaX, volcanoGreyTop), borderWidth: 0, pointRadius: 0, fill: '+1', backgroundColor: '#6a6a6a' },
      { data: zipXY(volcanoAreaX, volcanoGreyLow), borderWidth: 0, pointRadius: 0 }
    ] },
    options: {
      layout: { padding: { top: m.t, right: m.r } },
      scales: {
        x: numAxis('x', m, -6.7, 6.65, [-6, -3, 0, 3, 6], [-4.5, -1.5, 1.5, 4.5], { size: 11 }),
        y: numAxis('y', m, -6.8, 146, [0, 50, 100], [25, 75, 125], { size: 11 })
      }
    },
    plugins: [frame('#222', 1.6)]
  })
  label('Log<sub>2</sub> (Fold Change)', 175, 288, { size: 12.5 })
  label('\u2212Log<sub>10</sub> (P.adj)', 28.7, 146, { size: 12, rot: -90 })
}

// ---------- B ----------
{
  const b = { l: 526, r: 826, t: 36, b: 234 }
  const m = { l: 26, b: 22, t: 2, r: 4 }
  new Chart(makeCanvas(b, m), {
    type: 'line',
    data: { datasets: [
      hLine(0, -2150, 45300, '#111', 1.4),
      {
        data: zipXY(rankX, rankFC),
        borderColor: '#ee1018', borderWidth: 5.5,
        segment: { borderColor: (c) => rankColors[c.p0DataIndex] },
        pointRadius: (c) => 1.5 + Math.abs(c.parsed.y) * 0.85,
        pointBackgroundColor: rankColors, pointBorderWidth: 0
      },
      vLine(21500, -3.5, 6.5, '#666', 1.1, [7, 4]),
      hLine(1, -2150, 45300, '#666', 1.1, [6, 4]),
      hLine(-1, -2150, 45300, '#666', 1.1, [6, 4])
    ] },
    options: {
      layout: { padding: { top: m.t, right: m.r } },
      scales: {
        x: numAxis('x', m, -2150, 45300, [0, 10000, 20000, 30000, 40000], [5000, 15000, 25000, 35000], { size: 9.5 }),
        y: numAxis('y', m, -3.5, 6.5, [-2, 0, 2, 4, 6], [-3, -1, 1, 3, 5], { size: 9.5 })
      }
    },
    plugins: [frame('#222', 1.6)]
  })
  label('Rank of differentially expressed genes', 676, 262, { size: 11.5 })
  label('Log<sub>2</sub> (Fold Change)', 493, 135, { size: 11, rot: -90 })
  label('P.adj', 835, 48, { size: 8, align: 'l' })
  colorBar(835, 845, 57, 117, 'linear-gradient(to bottom,#1f4e8c 0%,#ffffff 50%,#ff0000 100%)')
  label('0.75', 848, 72, { size: 8, align: 'l' })
  label('0.50', 848, 87, { size: 8, align: 'l' })
  label('0.25', 848, 102, { size: 8, align: 'l' })
  label('Log<sub>2</sub> FC', 835, 137, { size: 8, align: 'l' })
  const legendRadii = [2.5, 3.2, 3.9, 4.5, 5.2, 5.8]
  const legendY = [153, 166, 177, 190, 204, 218]
  legendRadii.forEach((radius, i) => {
    dot(842.5, legendY[i], radius, '#444')
    label(String(i + 1), 851, legendY[i], { size: 8, align: 'l' })
  })
}

// ---------- C / D ----------
const enrichBars = (b, m, terms, values, groups, xMax, major, minor, fontSize, span) => {
  new Chart(makeCanvas(b, m), {
    type: 'bar',
    data: { datasets: [{
      data: values.map((v, i) => ({ x: v, y: i })),
      backgroundColor: groups.map((g) => barKinds[g]),
      borderColor: '#1c1c1c', borderWidth: 1.3,
      barThickness: span
    }] },
    options: {
      indexAxis: 'y',
      layout: { padding: { top: m.t, right: m.r } },
      scales: {
        x: numAxis('x', m, 0, xMax, major, minor, { size: 9.5 }),
        y: {
          type: 'linear', reverse: true, min: -0.61, max: 11.61, offset: false,
          afterBuildTicks: (s) => { s.ticks = terms.map((t, i) => ({ value: i })) },
          afterFit: (s) => { s.width = m.l; clearPadding(s) },
          ticks: { autoSkip: false, padding: 3, font: { size: fontSize }, color: '#333', callback: (v) => terms[v] },
          grid: { offset: false, color: '#ececec', lineWidth: 1.2, tickColor: '#333', tickLength: 3 },
          border: { display: false }
        }
      }
    },
    plugins: [frame('#222', 1.4)]
  })
}
enrichBars({ l: 183.5, r: 303, t: 344, b: 595 }, { l: 178, b: 22, t: 2, r: 4 }, cTerms, cValues, cGroups, 21.7, [0, 5, 10, 15, 20], [2.5, 7.5, 12.5, 17.5], 8.9, 16.5)
enrichBars({ l: 761, r: 823.4, t: 310.7, b: 592 }, { l: 261, b: 22, t: 2, r: 4 }, dTerms, dValues, dGroups, 5.3, [0, 1, 2, 3, 4, 5], [0.5, 1.5, 2.5, 3.5, 4.5], 9.9, 18.5)
label('\u2212Log<sub>10</sub> (p.adjust)', 243.7, 619, { size: 11.5 })
label('\u2212Log<sub>10</sub> (p.adjust)', 792, 619, { size: 11.5 })

const groupLegend = (x0, x1, ys, h, size) => {
  Object.keys(barKinds).forEach((k, i) => {
    colorBar(x0, x1, ys[i] - h / 2, ys[i] + h / 2, barKinds[k])
    const box = document.body.lastChild
    box.style.boxSizing = 'border-box'
    box.style.border = '1px solid #333'
    label(k, x1 + 4, ys[i], { size, align: 'l' })
  })
}
groupLegend(308, 317, [445.7, 456.7, 466.5, 476.7], 10, 7.5)
groupLegend(828, 838, [425, 436.7, 448, 460], 11, 8.5)

// ---------- E ----------
{
  const xMajor = [10000, 20000, 30000]
  const xMinor = [5000, 15000, 25000, 35000]
  const top = { l: 53.8, r: 295.7, t: 662, b: 797 }
  const mTop = { l: 30, b: 0, t: 2, r: 4 }
  new Chart(makeCanvas(top, mTop), {
    type: 'line',
    data: { datasets: [
      { data: pairs(esRed), borderColor: '#f5141c', borderWidth: 1.5, pointRadius: 0 },
      { data: pairs(esBlue), borderColor: '#1c5596', borderWidth: 1.5, pointRadius: 0 },
      hLine(0, 0, 36650, '#bdbdbd', 2)
    ] },
    options: {
      layout: { padding: { top: mTop.t, right: mTop.r } },
      scales: {
        x: { ...numAxis('x', mTop, 0, 36650, xMajor, xMinor, { tickLength: 0 }), ticks: { display: false } },
        y: numAxis('y', mTop, -0.058, 0.593, [0, 0.2, 0.4], [0.1, 0.3, 0.5], { size: 9.5, fmt: (v) => v.toFixed(1) })
      }
    },
    plugins: [frame('#333', 1.3, 'tlr')]
  })
  const rug = { l: 53.8, r: 295.7, t: 797, b: 842.7 }
  const mRug = { l: 4, b: 0, t: 0, r: 4 }
  new Chart(makeCanvas(rug, mRug), {
    type: 'bar',
    data: { datasets: [
      { data: rugRed.map((r) => ({ x: r, y: [1, 2] })), backgroundColor: '#f00a0a', barThickness: 1.2, grouped: false },
      { data: rugBlue.map((r) => ({ x: r, y: [0, 1] })), backgroundColor: '#1c5596', barThickness: 1.2, grouped: false }
    ] },
    options: {
      layout: { padding: { right: mRug.r } },
      scales: {
        x: { type: 'linear', min: 0, max: 36650, offset: false, display: true, ticks: { display: false }, grid: { display: false }, border: { display: false }, afterFit: (s) => { s.height = 0; clearPadding(s) } },
        y: { type: 'linear', min: 0, max: 2, ticks: { display: false }, grid: { display: false }, border: { display: false }, afterFit: (s) => { s.width = mRug.l; clearPadding(s) } }
      }
    },
    plugins: [frame('#333', 1.3, 'lr')]
  })
  const low = { l: 53.8, r: 295.7, t: 842.7, b: 914 }
  const mLow = { l: 30, b: 22, t: 2, r: 4 }
  new Chart(makeCanvas(low, mLow), {
    type: 'line',
    data: { datasets: [
      { data: zipXY(metricX, metricY), borderWidth: 0, pointRadius: 0, fill: { value: 0 }, backgroundColor: '#bebebe', borderColor: '#bebebe' }
    ] },
    options: {
      layout: { padding: { top: mLow.t, right: mLow.r } },
      scales: {
        x: numAxis('x', mLow, 0, 36650, xMajor, xMinor, { size: 9.5 }),
        y: numAxis('y', mLow, -2.9, 6, [-2, 0, 2, 4, 6], [-1, 1, 3, 5], { size: 9.5 })
      }
    },
    plugins: [frame('#333', 1.3)]
  })
  label('Enrichment Score', 25, 730, { size: 10.5, rot: -90 })
  label('Ranked list metric', 27, 880, { size: 10.5, rot: -90 })
  label('Rank in Ordered Dataset', 175, 937, { size: 10.5 })
  colorBar(57, 68, 782.8, 784, '#1c5596')
  colorBar(57, 68, 791.5, 792.7, '#f5141c')
  label('KEGG_CELL_CYCLE', 71, 783.5, { size: 7.3, align: 'l' })
  label('KEGG_CYTOKINE_CYTOKINE_RECEPTOR_INTERACTION', 71, 792, { size: 7.3, align: 'l' })
}

// ---------- F ----------
{
  const b = { l: 621, r: 860.7, t: 678, b: 907.3 }
  const m = { l: 160, b: 22, t: 2, r: 6 }
  const ridgeXs = [ridgeX1, ridgeX2, ridgeX3, ridgeX4, ridgeX5]
  const ridgeHs = [ridgeH1, ridgeH2, ridgeH3, ridgeH4, ridgeH5]
  new Chart(makeCanvas(b, m), {
    type: 'line',
    data: { datasets: ridgeXs.map((xs, i) => ({
      data: xs.map((x, k) => ({ x, y: 5 - i + ridgeHs[i][k] })),
      borderWidth: 0, pointRadius: 0, cubicInterpolationMode: 'monotone', fill: { value: 5 - i },
      backgroundColor: ridgeColors[i], borderColor: ridgeColors[i]
    })) },
    options: {
      layout: { padding: { top: m.t, right: m.r } },
      scales: {
        x: {
          type: 'linear', min: -0.44, max: 5.76,
          afterBuildTicks: (s) => { s.ticks = [0, 2, 4].map((v) => ({ value: v })) },
          afterFit: (s) => { s.height = m.b; clearPadding(s) },
          ticks: { font: { size: 10 }, color: '#333', padding: 3, maxRotation: 0 },
          grid: { display: false, drawTicks: true, tickLength: 3 },
          border: { display: true, color: '#333', width: 1.5 }
        },
        y: {
          type: 'linear', min: 0.783, max: 5.767,
          afterBuildTicks: (s) => { s.ticks = [1, 2, 3, 4, 5].map((v) => ({ value: v })) },
          afterFit: (s) => { s.width = m.l; clearPadding(s) },
          ticks: { font: { size: 9.6 }, color: '#222', padding: 3, callback: (v) => ridgeNames[5 - v] },
          grid: { display: false, tickLength: 3 },
          border: { display: true, color: '#333', width: 1.5 }
        }
      }
    }
  })
}

// ---------- G ----------
{
  const b = { l: 46.7, r: 409, t: 981, b: 1256.7 }
  const m = { l: 12, b: 24, t: 2, r: 420 }
  const gridAt = [2, 4, 6, 10]
  const major = [0, 2.5, 5, 7.5, 10, 12.5, 15, 17.5]
  new Chart(makeCanvas(b, m), {
    type: 'bar',
    data: { datasets: [{
      data: diseaseValues.map((v, i) => ({ x: v, y: i })),
      backgroundColor: diseaseValues.map((v, i) => (i < 16 ? '#d95f0e' : '#fb9a29')),
      borderColor: '#8a8a8a', borderWidth: 1, barThickness: 11.4
    }] },
    options: {
      indexAxis: 'y',
      layout: { padding: { top: m.t, left: m.l } },
      scales: {
        x: {
          type: 'linear', min: 0, max: 18.16, offset: false,
          afterBuildTicks: (s) => { s.ticks = [...new Set([...major, ...gridAt])].sort((p, q) => p - q).map((v) => ({ value: v })) },
          afterFit: (s) => { s.height = m.b; clearPadding(s) },
          ticks: { autoSkip: false, maxRotation: 0, padding: 2, font: { family: '"DejaVu Sans"', size: 10.4 }, color: '#333', callback: (v) => (major.includes(v) ? v.toFixed(1) : '') },
          grid: {
            offset: false,
            color: (c) => (c.tick && gridAt.includes(c.tick.value) ? '#bfbfbf' : 'rgba(0,0,0,0)'),
            lineWidth: 1.6,
            tickColor: (c) => (c.tick && major.includes(c.tick.value) ? '#333' : 'rgba(0,0,0,0)'),
            tickLength: 3
          },
          border: { display: false }
        },
        y: {
          type: 'linear', position: 'right', reverse: true, min: -1, max: 20, offset: false,
          afterBuildTicks: (s) => { s.ticks = diseaseNames.map((t, i) => ({ value: i })) },
          afterFit: (s) => { s.width = m.r; clearPadding(s) },
          ticks: { autoSkip: false, padding: 3.5, font: { family: '"DejaVu Sans"', size: 10.8 }, color: '#222', callback: (v) => diseaseNames[v] },
          grid: { display: false, drawTicks: false },
          border: { display: false }
        }
      }
    },
    plugins: [frame('#444', 1.1)]
  })
  label('-log10(P)', 227.7, 1283, { size: 10.4, family: '"DejaVu Sans"' })
}

// ---------- H ----------
const radialText = (ctx, cx, cy, radius, deg, text, size) => {
  const a = (deg - 90) * Math.PI / 180
  ctx.save()
  ctx.translate(cx + radius * Math.cos(a), cy + radius * Math.sin(a))
  ctx.font = `${size}px "Liberation Sans", Arial, sans-serif`
  ctx.fillStyle = '#222'
  ctx.textBaseline = 'middle'
  if (deg <= 180) { ctx.rotate(a); ctx.textAlign = 'left' } else { ctx.rotate(a + Math.PI); ctx.textAlign = 'right' }
  ctx.fillText(text, 0, 0)
  ctx.restore()
}

const chordPlugin = {
  id: 'chord',
  beforeDatasetsDraw(chart) {
    const arcs = chart.getDatasetMeta(0).data
    const nTerm = chordTerms.length
    const { ctx } = chart
    const slots = (list, arc, i) => {
      const pad = 0.008
      const span = (arc.endAngle - arc.startAngle - pad * 2) / list.length
      const at = list.indexOf(i)
      return [arc.startAngle + pad + span * at, arc.startAngle + pad + span * (at + 1)]
    }
    const rows = chordLinks.map((l, i) => ({ g: l[0], t: l[1], i }))
    rows.forEach((row) => {
      const onTerm = rows.filter((o) => o.t === row.t).sort((p, q) => q.g - p.g).map((o) => o.i)
      const onGene = rows.filter((o) => o.g === row.g).sort((p, q) => q.t - p.t).map((o) => o.i)
      const [b0, b1] = slots(onTerm, arcs[row.t], row.i)
      const [a0, a1] = slots(onGene, arcs[nTerm + row.g], row.i)
      const { x, y, innerRadius } = arcs[0]
      const r = innerRadius - 2
      ctx.beginPath()
      ctx.arc(x, y, r, a0, a1)
      ctx.quadraticCurveTo(x, y, x + r * Math.cos(b0), y + r * Math.sin(b0))
      ctx.arc(x, y, r, b0, b1)
      ctx.quadraticCurveTo(x, y, x + r * Math.cos(a0), y + r * Math.sin(a0))
      ctx.closePath()
      const c = chordTermColors[row.t]
      ctx.fillStyle = c + 'a0'
      ctx.fill()
    })
  },
  afterDatasetsDraw(chart) {
    const arcs = chart.getDatasetMeta(0).data
    const { ctx } = chart
    const names = [...chordTerms, ...chordGenes]
    arcs.forEach((arc, i) => {
      const deg = ((arc.startAngle + arc.endAngle) / 2 + Math.PI / 2) * 180 / Math.PI
      radialText(ctx, arc.x, arc.y, arc.outerRadius + 4, deg, names[i], i < chordTerms.length ? 11.4 : 9.4)
    })
  }
}
{
  const half = 190
  const c = makeCanvas({ l: 182.5 - half, r: 182.5 + half, t: 1534.3 - half, b: 1534.3 + half }, { l: 0, r: 0, t: 0, b: 0 })
  new Chart(c, {
    type: 'doughnut',
    data: { labels: [...chordTerms, ...chordGenes], datasets: [{
      data: [...chordTermSpan, ...chordGeneSpan],
      backgroundColor: [...chordTermColors, ...chordGeneColors],
      borderColor: '#2a2a2a', borderWidth: 0.8, spacing: 1.5
    }] },
    options: { cutout: 113, layout: { padding: half - 120 } },
    plugins: [chordPlugin]
  })
  label('LogFC', 303, 1340.7, { size: 9, align: 'r' })
  colorBar(305.7, 386.7, 1327.7, 1339.3, 'linear-gradient(to right,#4dbbd5 0%,#4dbbd5 22%,#a99a9a 50%,#e64b35 85%,#e64b35 100%)')
  label('4', 329, 1347.7, { size: 8.5 })
  label('5', 357.7, 1347.7, { size: 8.5 })
  label('6', 385.7, 1347.7, { size: 8.5 })
}

// ---------- I ----------
{
  const cx = 695
  const cy = 1522.7
  const half = 178
  const sectorSpans = [24, 6, 24, 6, 24, 6, 24, 6, 24, 6, 24, 6, 24, 6, 24, 6, 24, 6, 24, 6, 24, 6, 24, 6]
  const ringPaint = sectorSpans.map((s, i) => (i % 2 ? 'rgba(0,0,0,0)' : '#d9d9d9'))
  const ringLabels = {
    id: 'ringLabels',
    afterDatasetsDraw(chart) {
      const { ctx } = chart
      circleTerms.forEach((name, i) => {
        const deg = 12 + i * 30
        const a = (deg - 90) * Math.PI / 180
        ctx.save()
        ctx.translate(chart.width / 2 + 156 * Math.cos(a), chart.height / 2 + 156 * Math.sin(a))
        ctx.rotate((deg > 90 && deg < 270 ? deg - 180 : deg) * Math.PI / 180)
        ctx.font = '10.5px "Liberation Sans", Arial, sans-serif'
        ctx.fillStyle = '#222'
        ctx.textAlign = 'center'
        ctx.textBaseline = 'middle'
        ctx.fillText(name, 0, 0)
        ctx.restore()
      })
    }
  }
  new Chart(makeCanvas({ l: cx - half, r: cx + half, t: cy - half, b: cy + half }, { l: 0, r: 0, t: 0, b: 0 }), {
    type: 'doughnut',
    data: { datasets: [0, 1, 2, 3].map(() => ({ data: sectorSpans, backgroundColor: ringPaint, borderColor: '#fff', borderWidth: 1.4 })) },
    options: { cutout: 93, layout: { padding: half - 148 } },
    plugins: [ringLabels]
  })

  const barHalf = 100
  const hole = {
    id: 'hole',
    afterDatasetsDraw(chart) {
      const s = chart.scales.r
      const { ctx } = chart
      ctx.save()
      ctx.fillStyle = '#fff'
      ctx.beginPath()
      ctx.arc(s.xCenter, s.yCenter, s.getDistanceFromCenterForValue(0), 0, Math.PI * 2)
      ctx.fill()
      ctx.restore()
    }
  }
  new Chart(makeCanvas({ l: cx - barHalf, r: cx + barHalf, t: cy - barHalf, b: cy + barHalf }, { l: 0, r: 0, t: 0, b: 0 }), {
    type: 'polarArea',
    data: { labels: sectorSpans, datasets: [{
      data: circleBars.flatMap((v) => [v, 0]),
      backgroundColor: circleBars.flatMap((v, i) => [circleBarColors[i], 'rgba(0,0,0,0)']),
      borderColor: circleBars.flatMap(() => ['#333', 'rgba(0,0,0,0)']),
      borderWidth: 1,
      angle: (c) => sectorSpans[c.dataIndex]
    }] },
    options: {
      scales: { r: { display: false, min: -12.13, max: 20.66 } }
    },
    plugins: [hole]
  })

  new Chart(makeCanvas({ l: cx - 150, r: cx + 150, t: cy - 150, b: cy + 150 }, { l: 0, r: 0, t: 0, b: 0 }), {
    type: 'scatter',
    data: { datasets: [{ data: pairs(circleDots), pointRadius: 3.3, pointBackgroundColor: 'rgba(232,80,58,0.5)', pointBorderWidth: 0 }] },
    options: {
      scales: {
        x: { type: 'linear', min: -450, max: 450, display: false },
        y: { type: 'linear', min: -450, max: 450, display: false }
      }
    }
  })

  label('LogFC', 788, 1333, { size: 8.8, align: 'l' })
  dot(824, 1333, 3.3, 'rgba(232,80,58,0.5)')
  label('Up', 832.7, 1333, { size: 8.8, align: 'l' })
  label('Z\u2212score', 788, 1360, { size: 8.8, align: 'l' })
  colorBar(822.7, 886.7, 1346.7, 1359.3, 'linear-gradient(to right,#4dbbd5 0%,#4dbbd5 15%,#a99a9a 50%,#e64b35 88%,#e64b35 100%)')
  label('2.0', 834, 1367.7, { size: 8.5 })
  label('2.4', 850, 1367.7, { size: 8.5 })
  label('2.8', 866, 1367.7, { size: 8.5 })
  label('3.2', 881, 1367.7, { size: 8.5 })
}

// ---------- J ----------
const jBoxes = [
  { l: 66, r: 221, t: 1742.7, b: 1899, xMin: 1.84, xMax: 6.26, yMin: -3, yMax: 12 },
  { l: 302.7, r: 458.7, t: 1741.7, b: 1897, xMin: 1.854, xMax: 6.16, yMin: -1.17, yMax: 7.37 },
  { l: 527.5, r: 682.3, t: 1743, b: 1899, xMin: 1.82, xMax: 6.21, yMin: -2.7, yMax: 12.3 },
  { l: 736, r: 891.6, t: 1743, b: 1900.7, xMin: 1.83, xMax: 6.24, yMin: -2.4, yMax: 12.8 },
  { l: 64.8, r: 220, t: 1945, b: 2100.7, xMin: 1.84, xMax: 6.25, yMin: -2.9, yMax: 11.2 },
  { l: 306.8, r: 462.7, t: 1945.7, b: 2102, xMin: 1.84, xMax: 6.26, yMin: -2, yMax: 9.1 },
  { l: 527.5, r: 682.3, t: 1945.7, b: 2103, xMin: 1.84, xMax: 6.21, yMin: -2.2, yMax: 11.25 },
  { l: 736.2, r: 892.2, t: 1945.7, b: 2101.7, xMin: 1.84, xMax: 6.26, yMin: -0.9, yMax: 16.1 }
]
const jXTitle = [[143, 1922], [381, 1921], [605, 1923], [814, 1923], [143, 2124], [385, 2124], [605, 2124], [814, 2124]]
const jYTitle = [[27, 1820], [268, 1819], [488, 1820], [707, 1820], [26, 2022], [268, 2022], [488, 2022], [698, 2022]]

jBoxes.forEach((b, i) => {
  const m = { l: 24, b: 20, t: 2, r: 3 }
  const x0 = 2
  const x1 = 6.15
  const xm = 3.6
  const y0 = jFitStart[i]
  const y1 = jFitEnd[i]
  const ym = y0 + (y1 - y0) * (xm - x0) / (x1 - x0)
  const datasets = [
    { data: [{ x: x0, y: y0 }, { x: x1, y: y1 }], borderColor: '#ee1c25', borderWidth: 1.2, pointRadius: 0 },
    { data: flatPairs([...jPoints[i], ...jStrips[i]]), showLine: false, pointRadius: 2.1, pointBackgroundColor: '#f5141c', pointBorderWidth: 0 },
    {
      data: [{ x: x0, y: y0 + jFitBand[i] }, { x: xm, y: ym + jFitMid[i] }, { x: x1, y: y1 + jFitBand[i] * 1.3 }],
      borderWidth: 0, pointRadius: 0, fill: '+1', backgroundColor: 'rgba(240,90,100,0.25)'
    },
    { data: [{ x: x0, y: y0 - jFitBand[i] }, { x: xm, y: ym - jFitMid[i] }, { x: x1, y: y1 - jFitBand[i] * 1.3 }], borderWidth: 0, pointRadius: 0 }
  ]
  new Chart(makeCanvas(b, m), {
    type: 'line',
    data: { datasets },
    options: {
      layout: { padding: { top: m.t, right: m.r } },
      scales: {
        x: numAxis('x', m, b.xMin, b.xMax, jXMajor, jXMinor, { size: 8.6 }),
        y: numAxis('y', m, b.yMin, b.yMax, jYMajor[i], jYMinor[i], { size: 8.6 })
      }
    },
    plugins: [frame('#333', 1.4)]
  })
  label('Spearman', b.r - 4, b.b - 33, { size: 8.7, align: 'r', color: '#f5141c' })
  label(`r = ${jR[i]}`, b.r - 4, b.b - 20, { size: 8.7, align: 'r', color: '#f5141c' })
  label('P &lt; 0.001', b.r - 4, b.b - 7, { size: 8.7, align: 'r', color: '#f5141c' })
  label('The expression of QPCTL', jXTitle[i][0], jXTitle[i][1], { size: 10 })
  label('Log<sub>2</sub> (TPM+1)', jXTitle[i][0], jXTitle[i][1] + 10.5, { size: 10 })
  label(`The expression of ${jGenes[i]}`, jYTitle[i][0], jYTitle[i][1], { size: 10, rot: -90 })
  label('Log<sub>2</sub> (TPM+1)', jYTitle[i][0] + 10.5, jYTitle[i][1], { size: 10, rot: -90 })
})

// ---------- panel letters ----------
const panelLetters = ['A', 'B', 'C', 'D', 'E', 'F', 'G', 'H', 'I', 'J']
const letterX = [0, 464, 0, 464, 0, 464, 1, 1, 508, 0]
const letterY = [18, 18, 318, 318, 645, 645, 968, 1332, 1332, 1708]
panelLetters.forEach((t, i) => {
  label(t, letterX[i], letterY[i], { size: 27, align: 'l', weight: 700, color: '#000' })
})
</script>
</body>
</html>
